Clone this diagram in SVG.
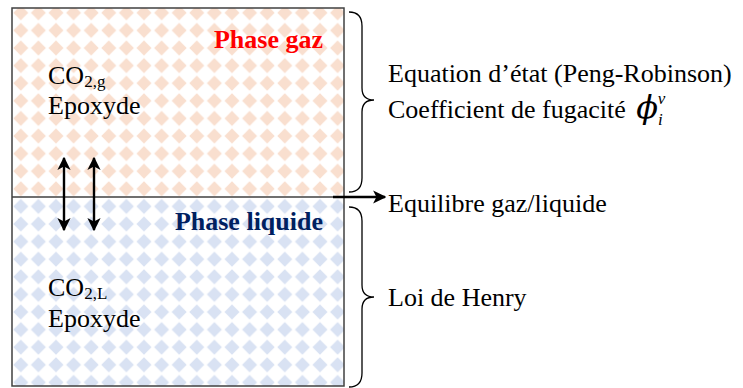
<svg xmlns="http://www.w3.org/2000/svg" width="743" height="388" viewBox="0 0 743 388">
<style>
text{font-family:"Liberation Serif","Times New Roman",serif;font-size:26px;fill:#000}
.title{font-weight:bold}
.conn{stroke:#000;stroke-width:2.4;fill:none}
.brace{stroke:#000;stroke-width:1.3;fill:none}
</style>
<defs>
<pattern id="pg" x="12" y="4" width="17.6" height="17.6" patternUnits="userSpaceOnUse">
<polygon points="8.8,1.3 16.3,8.8 8.8,16.3 1.3,8.8" fill="#f9dfcf"/>
</pattern>
<pattern id="pl" x="12" y="4" width="17.6" height="17.6" patternUnits="userSpaceOnUse">
<polygon points="8.8,1.3 16.3,8.8 8.8,16.3 1.3,8.8" fill="#d9e2f3"/>
</pattern>
<marker id="ah" viewBox="0 0 10 10" refX="9" refY="5" markerWidth="5.5" markerHeight="5.5" orient="auto-start-reverse" markerUnits="strokeWidth">
<path d="M0,0 L10,5 L0,10 L2.5,5 z" fill="#000"/>
</marker>
</defs>
<rect width="743" height="388" fill="#fff"/>
<g id="phase-gaz">
<rect x="12" y="8" width="332" height="189" fill="url(#pg)"/>
<text x="323" y="48" class="title" style="fill:#ff0000" text-anchor="end">Phase gaz</text>
<text x="48" y="84">CO<tspan font-size="17" dy="3">2,g</tspan></text>
<text x="48" y="114">Epoxyde</text>
</g>
<g id="phase-liquide">
<rect x="12" y="197" width="332" height="189" fill="url(#pl)"/>
<text x="323" y="230" class="title" style="fill:#002060" text-anchor="end">Phase liquide</text>
<text x="48" y="296">CO<tspan font-size="17" dy="3">2,L</tspan></text>
<text x="48" y="327">Epoxyde</text>
</g>
<g id="box">
<rect x="12" y="8" width="332" height="378" fill="none" stroke="#404040" stroke-width="1.5"/>
<line x1="12" y1="197" x2="344" y2="197" stroke="#404040" stroke-width="1.5"/>
</g>
<g id="brace-gaz">
<path class="brace" d="M349,12 Q362,12 362,26 L362,88 Q362,100 374,100 Q362,100 362,112 L362,178 Q362,192 349,192"/>
<text x="388" y="82">Equation d’état (Peng-Robinson)</text>
<text x="388" y="118">Coefficient de fugacité <tspan dx="4" font-style="italic" font-size="32" font-family="DejaVu Serif, serif">ϕ</tspan><tspan font-style="italic" font-size="17" dy="7">i</tspan><tspan font-style="italic" font-size="17" dx="-5" dy="-21">v</tspan></text>
</g>
<g id="equilibre">
<text x="388" y="212">Equilibre gaz/liquide</text>
</g>
<g id="brace-liquide">
<path class="brace" d="M349,207 Q362,207 362,221 L362,285 Q362,297 374,297 Q362,297 362,309 L362,373 Q362,387 349,387"/>
<text x="388" y="306">Loi de Henry</text>
</g>
<g id="connectors">
<line class="conn" x1="64" y1="158" x2="64" y2="230" marker-start="url(#ah)" marker-end="url(#ah)"/>
<line class="conn" x1="94" y1="158" x2="94" y2="230" marker-start="url(#ah)" marker-end="url(#ah)"/>
<line class="conn" x1="333" y1="197" x2="385" y2="197" marker-end="url(#ah)"/>
</g>
</svg>
